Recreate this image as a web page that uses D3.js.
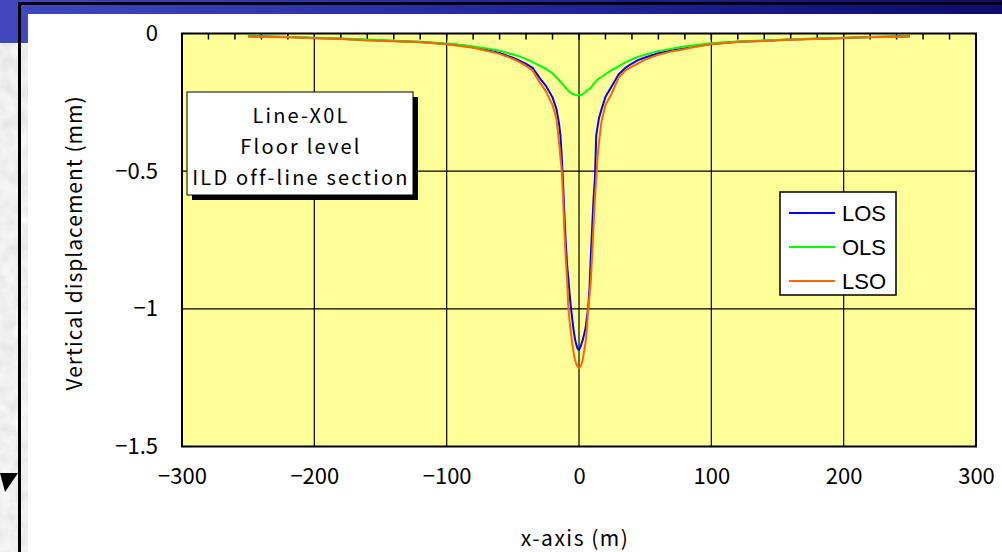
<!DOCTYPE html>
<html>
<head>
<meta charset="utf-8">
<script src="https://cdn.jsdelivr.net/npm/d3@7"></script>
<style>
  html, body { margin: 0; padding: 0; background: #fff; }
  svg { display: block; }
</style>
</head>
<body>
<div id="chart"></div>
<script>
// data (x in m, displacement in mm)
const xValues = [-250, -220, -200, -180, -160, -140, -120, -100, -90, -80, -70, -60, -50, -45, -40, -35, -30, -25, -20, -17, -15, -14, -13, -12, -11, -10, -9, -8, -7, -6, -5, -4, -3, -2, -1,
  0, 1, 2, 3, 4, 5, 6, 7, 8, 9, 10, 11, 12, 13, 14, 15, 17, 20, 25, 30, 35, 40, 45, 50, 60, 70, 80, 90, 100, 120, 140, 160, 180, 200, 220, 250];

const los = [-0.010, -0.013, -0.016, -0.019, -0.024, -0.027, -0.031, -0.038, -0.043, -0.050, -0.060, -0.071, -0.088, -0.099, -0.110, -0.125, -0.160, -0.190, -0.232, -0.275, -0.330, -0.372, -0.450, -0.550, -0.660, -0.760, -0.840, -0.894, -0.950, -1.000, -1.040, -1.080, -1.110, -1.130, -1.145,
  -1.149, -1.140, -1.125, -1.110, -1.090, -1.070, -1.030, -0.996, -0.920, -0.800, -0.700, -0.600, -0.530, -0.372, -0.340, -0.310, -0.275, -0.230, -0.190, -0.148, -0.125, -0.109, -0.096, -0.087, -0.072, -0.062, -0.054, -0.045, -0.038, -0.030, -0.026, -0.022, -0.019, -0.016, -0.013, -0.010];

const ols = [-0.010, -0.013, -0.015, -0.018, -0.022, -0.026, -0.030, -0.036, -0.041, -0.047, -0.054, -0.063, -0.076, -0.083, -0.093, -0.104, -0.117, -0.128, -0.145, -0.160, -0.170, -0.175, -0.180, -0.186, -0.192, -0.198, -0.203, -0.208, -0.213, -0.216, -0.219, -0.221, -0.223, -0.224, -0.224,
  -0.224, -0.224, -0.222, -0.220, -0.216, -0.212, -0.207, -0.204, -0.202, -0.196, -0.190, -0.184, -0.178, -0.173, -0.168, -0.164, -0.158, -0.148, -0.132, -0.119, -0.105, -0.094, -0.084, -0.077, -0.064, -0.055, -0.047, -0.041, -0.035, -0.029, -0.025, -0.021, -0.018, -0.015, -0.013, -0.010];

const lso = [-0.011, -0.014, -0.017, -0.020, -0.025, -0.028, -0.032, -0.039, -0.045, -0.052, -0.063, -0.074, -0.092, -0.104, -0.118, -0.135, -0.175, -0.210, -0.260, -0.310, -0.400, -0.450, -0.500, -0.600, -0.720, -0.820, -0.894, -1.000, -1.050, -1.090, -1.130, -1.160, -1.185, -1.200, -1.210,
  -1.215, -1.210, -1.200, -1.180, -1.150, -1.120, -1.070, -1.000, -0.950, -0.894, -0.800, -0.700, -0.600, -0.530, -0.450, -0.400, -0.320, -0.260, -0.215, -0.160, -0.135, -0.120, -0.108, -0.095, -0.077, -0.065, -0.056, -0.046, -0.039, -0.031, -0.027, -0.023, -0.020, -0.017, -0.014, -0.011];

const seriesNames = ["LOS", "OLS", "LSO"];
const seriesColors = ["#0000ff", "#00ff00", "#ff6600"];
const xTicks = [-300, -200, -100, 0, 100, 200, 300];
const yTicks = [0, -0.5, -1, -1.5];
const boxLines = ["Line-X0L", "Floor level", "ILD off-line section"];

const width = 1002, height = 552;
const plot = { left: 182, right: 976, top: 33.5, bottom: 446.5 };
const gothic = "'Noto Sans CJK JP', sans-serif";

const svg = d3.select("#chart").append("svg")
  .attr("width", width)
  .attr("height", height);

const defs = svg.append("defs");

const grad = defs.append("linearGradient").attr("id", "band");
grad.append("stop").attr("offset", "0%").attr("stop-color", "#4148bd");
grad.append("stop").attr("offset", "55%").attr("stop-color", "#22259a");
grad.append("stop").attr("offset", "100%").attr("stop-color", "#0c0c6c");

const marble = defs.append("filter").attr("id", "marble")
  .attr("x", 0).attr("y", 0).attr("width", 1).attr("height", 1);
marble.append("feTurbulence")
  .attr("type", "fractalNoise")
  .attr("baseFrequency", 0.07)
  .attr("numOctaves", 3)
  .attr("seed", 4);
marble.append("feColorMatrix")
  .attr("type", "matrix")
  .attr("values", "0.25 0 0 0 0.74  0.25 0 0 0 0.74  0.25 0 0 0 0.74  0 0 0 0 1");

// slide background
svg.append("rect").attr("x", 0).attr("y", 0).attr("width", 28).attr("height", height)
  .attr("filter", "url(#marble)");
svg.append("rect").attr("x", 0).attr("y", 0).attr("width", width).attr("height", 14)
  .attr("fill", "url(#band)");
svg.append("rect").attr("x", 0).attr("y", 0).attr("width", 28).attr("height", 43)
  .attr("fill", "#4148bd");
svg.append("rect").attr("x", 28).attr("y", 14).attr("width", width - 28).attr("height", height - 14)
  .attr("fill", "#ffffff");
svg.append("path")
  .attr("d", `M19.5,${height} V3.5 H${width}`)
  .attr("fill", "none").attr("stroke", "#000").attr("stroke-width", 3);
svg.append("path")
  .attr("d", "M0,473 L18,473 L5,492 Z")
  .attr("fill", "#000");

const x = d3.scaleLinear().domain([-300, 300]).range([plot.left, plot.right]);
const y = d3.scaleLinear().domain([-1.5, 0]).range([plot.bottom, plot.top]);

const g = svg.append("g");

g.append("rect")
  .attr("x", plot.left).attr("y", plot.top)
  .attr("width", plot.right - plot.left).attr("height", plot.bottom - plot.top)
  .attr("fill", "#ffff99");

// grid
g.append("g")
  .selectAll("line")
  .data(xTicks.slice(1, -1))
  .join("line")
  .attr("x1", d => x(d)).attr("x2", d => x(d))
  .attr("y1", plot.top).attr("y2", plot.bottom)
  .attr("stroke", "#000").attr("stroke-width", 1.2);
g.append("g")
  .selectAll("line")
  .data(yTicks.slice(1, -1))
  .join("line")
  .attr("x1", plot.left).attr("x2", plot.right)
  .attr("y1", d => y(d)).attr("y2", d => y(d))
  .attr("stroke", "#000").attr("stroke-width", 1.2);

// minor ticks along the top, every 20 m
g.append("g")
  .selectAll("line")
  .data(d3.range(-280, 300, 20))
  .join("line")
  .attr("x1", d => x(d)).attr("x2", d => x(d))
  .attr("y1", plot.top).attr("y2", plot.top + 6)
  .attr("stroke", "#000").attr("stroke-width", 1.5);

// curves
const series = [los, ols, lso];
const line = d3.line()
  .x((d, i) => x(xValues[i]))
  .y(d => y(d));

g.append("g")
  .selectAll("path")
  .data(series)
  .join("path")
  .attr("d", d => line(d))
  .attr("fill", "none")
  .attr("stroke", (d, i) => seriesColors[i])
  .attr("stroke-width", 2)
  .attr("stroke-linejoin", "round");

g.append("rect")
  .attr("x", plot.left).attr("y", plot.top)
  .attr("width", plot.right - plot.left).attr("height", plot.bottom - plot.top)
  .attr("fill", "none").attr("stroke", "#000").attr("stroke-width", 2);

// axes
const fmt = d => d === 0 ? "0" : d3.format("")(d);

const yAxis = svg.append("g")
  .attr("transform", `translate(${plot.left},0)`)
  .call(d3.axisLeft(y).tickValues(yTicks).tickFormat(fmt).tickSize(0).tickPadding(24));
yAxis.select(".domain").remove();
yAxis.selectAll("text")
  .attr("font-family", gothic)
  .attr("font-size", 22)
  .attr("fill", "#000");

const xAxis = svg.append("g")
  .attr("transform", `translate(0,${plot.bottom})`)
  .call(d3.axisBottom(x).tickValues(xTicks).tickFormat(fmt).tickSize(0).tickPadding(22));
xAxis.select(".domain").remove();
xAxis.selectAll("text")
  .attr("font-family", gothic)
  .attr("font-size", 22)
  .attr("fill", "#000");

svg.append("text")
  .attr("transform", `translate(82,${(plot.top + plot.bottom) / 2 + 3}) rotate(-90)`)
  .attr("text-anchor", "middle")
  .attr("font-family", gothic)
  .attr("font-size", 21)
  .attr("letter-spacing", 1)
  .text("Vertical displacement (mm)");

svg.append("text")
  .attr("x", 575).attr("y", 546)
  .attr("text-anchor", "middle")
  .attr("font-family", gothic)
  .attr("font-size", 21)
  .attr("letter-spacing", 1.5)
  .text("x-axis (m)");

// annotation box with shadow
const box = { x: 187, y: 92, w: 226, h: 103 };
svg.append("rect")
  .attr("x", box.x + 5).attr("y", box.y + 5).attr("width", box.w).attr("height", box.h)
  .attr("fill", "#000");
svg.append("rect")
  .attr("x", box.x).attr("y", box.y).attr("width", box.w).attr("height", box.h)
  .attr("fill", "#fff").attr("stroke", "#000").attr("stroke-width", 1);
svg.append("g")
  .selectAll("text")
  .data(boxLines)
  .join("text")
  .attr("x", box.x + box.w / 2 + 1)
  .attr("y", (d, i) => 123 + i * 31)
  .attr("text-anchor", "middle")
  .attr("font-family", gothic)
  .attr("font-size", 20)
  .attr("letter-spacing", 2.2)
  .text(d => d);

// legend
const leg = svg.append("g").attr("transform", "translate(780,192)");
leg.append("rect")
  .attr("width", 116).attr("height", 103)
  .attr("fill", "#fff").attr("stroke", "#000").attr("stroke-width", 1.5);
const item = leg.selectAll("g")
  .data(seriesNames)
  .join("g")
  .attr("transform", (d, i) => `translate(0,${21 + i * 34})`);
item.append("line")
  .attr("x1", 9).attr("x2", 55)
  .attr("stroke", (d, i) => seriesColors[i])
  .attr("stroke-width", 2);
item.append("text")
  .attr("x", 62).attr("dy", "0.36em")
  .attr("font-family", "'Liberation Sans', Arial, sans-serif")
  .attr("font-size", 22)
  .text(d => d);
</script>
</body>
</html>
